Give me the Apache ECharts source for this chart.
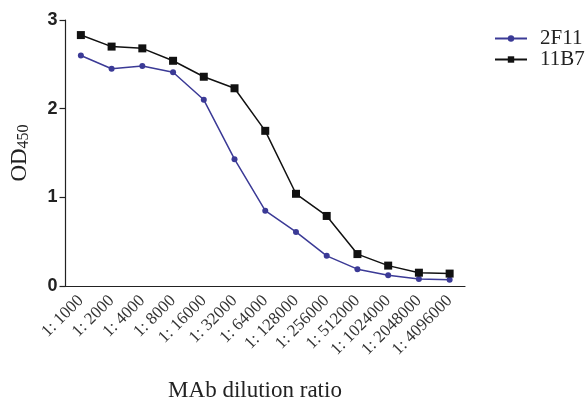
<!DOCTYPE html>
<html>
<head>
<meta charset="utf-8">
<script src="https://cdn.jsdelivr.net/npm/echarts@6/dist/echarts.min.js"></script>
<style>
html, body { margin: 0; padding: 0; background: #fff; }
#main { width: 587px; height: 398px; }
</style>
</head>
<body>
<div id="main"></div>
<script>
// dilution ratios
var categories = ['1: 1000', '1: 2000', '1: 4000', '1: 8000', '1: 16000', '1: 32000', '1: 64000',
  '1: 128000', '1: 256000', '1: 512000', '1: 1024000', '1: 2048000', '1: 4096000'];
// OD450 readings
var values2F11 = [2.60, 2.45, 2.48, 2.41, 2.10, 1.43, 0.85, 0.61, 0.34, 0.19, 0.12, 0.08, 0.07];
var values11B7 = [2.83, 2.70, 2.68, 2.54, 2.36, 2.23, 1.75, 1.04, 0.79, 0.36, 0.23, 0.15, 0.14];
var yTicks = [0, 1, 2, 3];

var serif = '"Liberation Serif", "DejaVu Serif", serif';
var myChart = echarts.init(document.getElementById('main'));

var option = {
  backgroundColor: '#fff',
  animation: false,
  title: {
    text: 'MAb dilution ratio',
    left: 250,
    top: 374,
    textAlign: 'center',
    textStyle: { fontFamily: serif, fontSize: 23, fontWeight: 'normal', color: '#222' }
  },
  legend: {
    orient: 'vertical',
    left: 489,
    top: 23,
    itemWidth: 32,
    itemHeight: 8,
    itemGap: 0,
    textStyle: { fontFamily: serif, fontSize: 21, color: '#222', padding: [0, 0, 0, 8] },
    data: ['2F11', '11B7']
  },
  grid: { left: 62, right: 122, top: 20, bottom: 112, containLabel: false },
  xAxis: {
    type: 'category',
    data: categories,
    boundaryGap: true,
    axisLine: { lineStyle: { color: '#222', width: 1.2 } },
    axisTick: { alignWithLabel: true, length: 9, lineStyle: { color: '#222', width: 1.2 } },
    axisLabel: {
      interval: 0,
      rotate: 45,
      margin: 12,
      fontFamily: serif,
      fontSize: 17,
      color: '#333'
    }
  },
  yAxis: {
    type: 'value',
    min: 0,
    max: 3,
    interval: 1,
    name: '{a|OD}{b|450}',
    nameLocation: 'middle',
    nameGap: 34,
    nameTextStyle: {
      rich: {
        a: { fontFamily: serif, fontSize: 23, color: '#222' },
        b: { fontFamily: serif, fontSize: 16, color: '#222', verticalAlign: 'bottom', padding: [8, 0, 0, 0] }
      }
    },
    splitLine: { show: false },
    axisLine: { show: true, lineStyle: { color: '#222', width: 1.2 } },
    axisTick: { show: true, length: 6, lineStyle: { color: '#222', width: 1.2 } },
    axisLabel: {
      margin: 8,
      fontFamily: '"Liberation Sans", Arial, sans-serif',
      fontWeight: 'bold',
      fontSize: 18,
      color: '#222',
      formatter: function (v) { return yTicks.indexOf(v) >= 0 ? String(v) : ''; }
    }
  },
  series: [
    {
      name: '2F11',
      type: 'line',
      data: values2F11,
      symbol: 'circle',
      symbolSize: 6,
      itemStyle: { color: '#3b3a96' },
      lineStyle: { color: '#3b3a96', width: 1.5 }
    },
    {
      name: '11B7',
      type: 'line',
      data: values11B7,
      symbol: 'rect',
      symbolSize: 8,
      itemStyle: { color: '#111' },
      lineStyle: { color: '#111', width: 1.5 }
    }
  ]
};

myChart.setOption(option);
</script>
</body>
</html>
